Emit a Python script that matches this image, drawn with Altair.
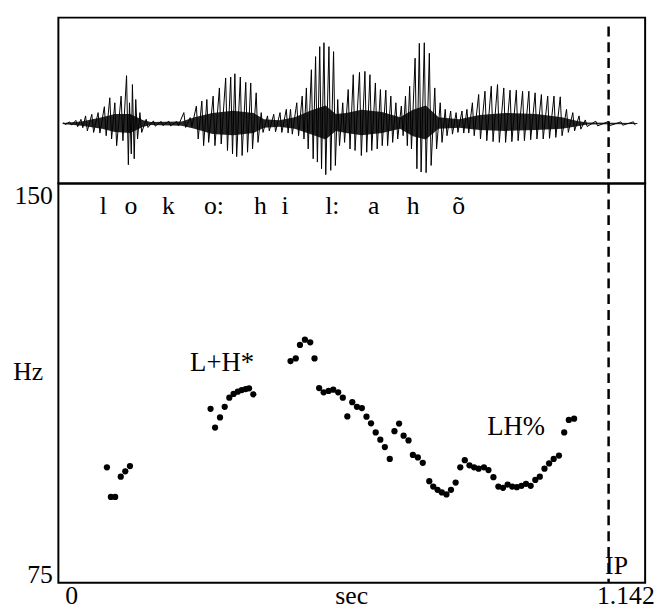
import altair as alt
import pandas as pd

T_MAX = 1.142
FONT = "Liberation Serif"

# ---- waveform: glottal spikes (time s, positive peak, negative trough)
wave_t = [0.0100, 0.0220, 0.0340, 0.0440,
          0.0529, 0.0651, 0.0773, 0.0895, 0.1001, 0.1099, 0.1221, 0.1327, 0.1384, 0.1441,
          0.1506, 0.1587, 0.1709, 0.1850, 0.2000, 0.2150, 0.2300,
          0.2442, 0.2564, 0.2686, 0.2792, 0.2890, 0.3012, 0.3134,
          0.3256, 0.3354, 0.3435, 0.3541, 0.3647, 0.3744, 0.3850, 0.3948, 0.4070, 0.4192,
          0.4314, 0.4436, 0.4518, 0.4640, 0.4745, 0.4827, 0.4924, 0.5006, 0.5087, 0.5169,
          0.5266, 0.5356, 0.5437, 0.5535, 0.5641, 0.5739, 0.5861, 0.5966, 0.6064, 0.6170,
          0.6268, 0.6373, 0.6471, 0.6569, 0.6675, 0.6756, 0.6837, 0.6943, 0.7025, 0.7122,
          0.7220, 0.7326, 0.7432, 0.7529, 0.7635, 0.7741, 0.7855, 0.7952, 0.8058, 0.8180,
          0.8303, 0.8425, 0.8547, 0.8669, 0.8791, 0.8913, 0.9035, 0.9157, 0.9279, 0.9401,
          0.9524, 0.9646, 0.9768, 0.9890, 1.0012, 1.0134, 1.0256, 1.0460, 1.0704, 1.0948, 1.1192]
wave_hi = [0.010, 0.015, 0.030, 0.040,
           0.072, 0.087, 0.103, 0.159, 0.243, 0.196, 0.259, 0.452, 0.196, 0.368,
           0.227, 0.103, 0.040, 0.025, 0.020, 0.022, 0.020,
           0.103, 0.056, 0.165, 0.212, 0.227, 0.259, 0.336,
           0.430, 0.439, 0.470, 0.439, 0.389, 0.383, 0.290, 0.103, 0.072, 0.087,
           0.103, 0.134, 0.134, 0.196, 0.259, 0.336, 0.508, 0.632, 0.726, 0.763,
           0.726, 0.679, 0.227, 0.196, 0.321, 0.461, 0.483, 0.492, 0.461, 0.383,
           0.321, 0.315, 0.259, 0.196, 0.165, 0.259, 0.352, 0.617, 0.757, 0.763,
           0.664, 0.336, 0.196, 0.134, 0.118, 0.103, 0.118, 0.134, 0.196, 0.274,
           0.305, 0.352, 0.368, 0.336, 0.315, 0.315, 0.305, 0.305, 0.290, 0.274,
           0.259, 0.259, 0.252, 0.134, 0.103, 0.072, 0.034, 0.022, 0.019, 0.016, 0.016]
wave_lo = [-0.010, -0.015, -0.030, -0.040,
           -0.069, -0.084, -0.090, -0.115, -0.146, -0.209, -0.162, -0.389, -0.287, -0.333,
           -0.146, -0.084, -0.037, -0.025, -0.020, -0.022, -0.020,
           -0.037, -0.028, -0.146, -0.209, -0.178, -0.209, -0.193,
           -0.255, -0.287, -0.312, -0.302, -0.271, -0.240, -0.178, -0.084, -0.069, -0.078,
           -0.084, -0.090, -0.100, -0.115, -0.146, -0.240, -0.333, -0.364, -0.427, -0.483,
           -0.442, -0.396, -0.209, -0.178, -0.240, -0.255, -0.302, -0.271, -0.255, -0.240,
           -0.209, -0.209, -0.178, -0.146, -0.115, -0.209, -0.240, -0.427, -0.458, -0.464,
           -0.396, -0.240, -0.178, -0.115, -0.100, -0.084, -0.090, -0.090, -0.115, -0.146,
           -0.162, -0.171, -0.178, -0.178, -0.171, -0.162, -0.162, -0.153, -0.146, -0.146,
           -0.140, -0.131, -0.115, -0.084, -0.069, -0.053, -0.028, -0.022, -0.019, -0.016, -0.016]

# dense core of the waveform (envelope)
env_t = [0.008, 0.045, 0.085, 0.110, 0.140, 0.165, 0.180, 0.240, 0.265, 0.300, 0.340,
         0.380, 0.400, 0.430, 0.460, 0.490, 0.520, 0.540, 0.560, 0.590, 0.630, 0.665,
         0.690, 0.715, 0.740, 0.780, 0.820, 0.870, 0.930, 0.980, 1.010, 1.030, 1.127]
env_hi = [0.005, 0.02, 0.06, 0.09, 0.09, 0.03, 0.015, 0.02, 0.06, 0.10, 0.12,
          0.10, 0.04, 0.03, 0.06, 0.12, 0.17, 0.09, 0.10, 0.13, 0.11, 0.06,
          0.13, 0.17, 0.06, 0.04, 0.08, 0.10, 0.09, 0.06, 0.025, 0.01, 0.005]
env_lo = [-0.005, -0.02, -0.05, -0.08, -0.09, -0.03, -0.015, -0.02, -0.05, -0.10, -0.11,
          -0.09, -0.04, -0.03, -0.05, -0.10, -0.15, -0.07, -0.09, -0.11, -0.09, -0.05,
          -0.12, -0.15, -0.05, -0.04, -0.06, -0.07, -0.06, -0.05, -0.025, -0.01, -0.005]

# ---- pitch track (s, Hz)
pitch_t = [0.0945, 0.1022, 0.1105, 0.1214, 0.1302, 0.1393,
           0.2962, 0.3050, 0.3146, 0.3237, 0.3327, 0.3410, 0.3492, 0.3569, 0.3646, 0.3711, 0.3794,
           0.4518, 0.4620, 0.4702, 0.4798, 0.4902, 0.4985, 0.5075, 0.5163, 0.5259, 0.5350,
           0.5446, 0.5536, 0.5624, 0.5720, 0.5811, 0.5907, 0.5997, 0.6085, 0.6176, 0.6266,
           0.6354, 0.6450, 0.6541, 0.6631, 0.6719, 0.6815, 0.6900, 0.6996, 0.7092,
           0.7219, 0.7296, 0.7380, 0.7463, 0.7553, 0.7641, 0.7732, 0.7822, 0.7910, 0.8001,
           0.8091, 0.8179, 0.8283, 0.8371, 0.8467, 0.8563, 0.8654, 0.8744, 0.8832, 0.8923,
           0.9013, 0.9101, 0.9192, 0.9282, 0.9370, 0.9461, 0.9551, 0.9640, 0.9743, 0.9845,
           0.9935, 1.0037]
pitch_hz = [96.67, 91.10, 91.10, 94.92, 95.92, 96.91,
            107.67, 104.15, 106.06, 108.05, 109.77, 110.46, 110.89, 111.20, 111.39, 111.52, 110.40,
            116.64, 117.14, 119.68, 120.67, 120.17, 117.14, 111.57, 110.77, 111.02, 111.26,
            110.77, 109.77, 106.24, 108.92, 108.05, 107.80, 106.19, 104.95, 103.22, 101.86,
            100.49, 98.26, 103.46, 104.89, 102.61, 101.73, 99.00, 98.52, 97.52,
            94.07, 93.06, 92.45, 91.95, 91.58, 92.45, 93.81, 96.67, 98.02, 97.04,
            96.67, 96.41, 96.67, 96.16, 94.81, 93.06, 92.82, 93.44, 93.06, 92.95,
            93.19, 93.57, 93.19, 94.31, 94.92, 96.41, 97.41, 98.26, 98.89, 103.22,
            105.58, 105.82]

phones = ["l", "o", "k", "o:", "h", "i", "l:", "a", "h", "õ"]
phone_t = [0.0876, 0.1414, 0.2144, 0.3028, 0.3930, 0.4410, 0.5332, 0.6138, 0.6906, 0.7790]
PHONE_HZ = 144.2

tones = ["L+H*", "LH%"]
tone_t = [0.3186, 0.8909]
tone_hz = [114.8, 102.7]

ip_label = "IP"
ip_t = 1.0709

W = 594
H_TOP = 168
H_BOT = 404

xscale = alt.Scale(domain=[0, T_MAX], nice=False, zero=False)

# ---- top panel
zig_rows = []
for t, hi, lo in zip(wave_t, wave_hi, wave_lo):
    zig_rows.append({"t": t, "a": hi})
    zig_rows.append({"t": t + 0.0035, "a": lo})
zig = pd.DataFrame(zig_rows)
env = pd.DataFrame({"t": env_t, "hi": env_hi, "lo": env_lo})
yw = alt.Scale(domain=[-0.567, 1.0], nice=False, zero=False)

core = alt.Chart(env).mark_area(color="black", interpolate="linear", opacity=0.85).encode(
    x=alt.X("t:Q", scale=xscale, axis=None),
    y=alt.Y("hi:Q", scale=yw, axis=None),
    y2="lo:Q",
)
spikes = alt.Chart(zig).mark_line(color="black", strokeWidth=1).encode(
    x=alt.X("t:Q", scale=xscale, axis=None),
    y=alt.Y("a:Q", scale=yw, axis=None),
)
ip_top = alt.Chart(pd.DataFrame({"t": [ip_t]})).mark_rule(
    color="black", strokeWidth=2.5, strokeDash=[10, 6]
).encode(x=alt.X("t:Q", scale=xscale, axis=None), y=alt.value(9), y2=alt.value(H_TOP))

top = alt.layer(core, spikes, ip_top).properties(width=W, height=H_TOP)

# ---- bottom panel
yp = alt.Scale(domain=[75, 150], nice=False, zero=False)
pitch = pd.DataFrame({"t": pitch_t, "hz": pitch_hz})
dots = alt.Chart(pitch).mark_circle(color="black", size=40, opacity=1).encode(
    x=alt.X("t:Q", scale=xscale, axis=None),
    y=alt.Y("hz:Q", scale=yp, axis=None),
)
tone_df = pd.DataFrame({"t": tone_t, "hz": tone_hz, "lab": tones})
tone_txt = alt.Chart(tone_df).mark_text(
    font=FONT, fontSize=27, baseline="alphabetic", align="center", color="black"
).encode(x=alt.X("t:Q", scale=xscale, axis=None), y=alt.Y("hz:Q", scale=yp, axis=None), text="lab:N")

phone_df = pd.DataFrame({"t": phone_t, "lab": phones, "hz": [PHONE_HZ] * len(phones)})
phone_txt = alt.Chart(phone_df).mark_text(
    font=FONT, fontSize=26, baseline="alphabetic", align="center", color="black"
).encode(x=alt.X("t:Q", scale=xscale, axis=None), y=alt.Y("hz:Q", scale=yp, axis=None), text="lab:N")

ip_bot = alt.Chart(pd.DataFrame({"t": [ip_t]})).mark_rule(
    color="black", strokeWidth=2.5, strokeDash=[10, 6]
).encode(x=alt.X("t:Q", scale=xscale, axis=None), y=alt.value(0), y2=alt.value(H_BOT))
ip_txt = alt.Chart(pd.DataFrame({"t": [ip_t], "lab": [ip_label]})).mark_text(
    font=FONT, fontSize=26, baseline="alphabetic", align="center", dx=8, color="black"
).encode(x=alt.X("t:Q", scale=xscale, axis=None), y=alt.value(H_BOT - 9), text="lab:N")

y150 = alt.Chart(pd.DataFrame({"lab": ["150"]})).mark_text(
    font=FONT, fontSize=26, baseline="alphabetic", align="right", color="black"
).encode(x=alt.value(-5.5), y=alt.value(21), text="lab:N")
y75 = alt.Chart(pd.DataFrame({"lab": ["75"]})).mark_text(
    font=FONT, fontSize=26, baseline="alphabetic", align="right", color="black"
).encode(x=alt.value(-5.5), y=alt.value(H_BOT), text="lab:N")
yhz = alt.Chart(pd.DataFrame({"lab": ["Hz"]})).mark_text(
    font=FONT, fontSize=26, baseline="alphabetic", align="right", color="black"
).encode(x=alt.value(-15.5), y=alt.value(199), text="lab:N")

XLAB_Y = H_BOT + 22
xl = pd.DataFrame({"t": [0.0, T_MAX / 2, T_MAX], "lab": ["0", "sec", "1.142"]})
x0 = alt.Chart(xl.iloc[[0]]).mark_text(
    font=FONT, fontSize=26, baseline="alphabetic", align="center", dx=13.5, color="black"
).encode(x=alt.X("t:Q", scale=xscale, axis=None), y=alt.value(XLAB_Y), text="lab:N")
xsec = alt.Chart(xl.iloc[[1]]).mark_text(
    font=FONT, fontSize=26, baseline="alphabetic", align="center", color="black"
).encode(x=alt.X("t:Q", scale=xscale, axis=None), y=alt.value(XLAB_Y), text="lab:N")
xmax = alt.Chart(xl.iloc[[2]]).mark_text(
    font=FONT, fontSize=26, baseline="alphabetic", align="center", dx=-19.5, color="black"
).encode(x=alt.X("t:Q", scale=xscale, axis=None), y=alt.value(XLAB_Y), text="lab:N")

bottom = alt.layer(
    ip_bot, dots, tone_txt, phone_txt, ip_txt, y150, y75, yhz, x0, xsec, xmax
).properties(width=W, height=H_BOT)

chart = alt.vconcat(top, bottom, spacing=0, bounds="flush").properties(
    padding={"left": 4, "top": 5, "right": 0, "bottom": 0}
).configure(background="white").configure_view(stroke="black", strokeWidth=2)

chart.save("out.html", embed_options={"renderer": "svg", "actions": False})
